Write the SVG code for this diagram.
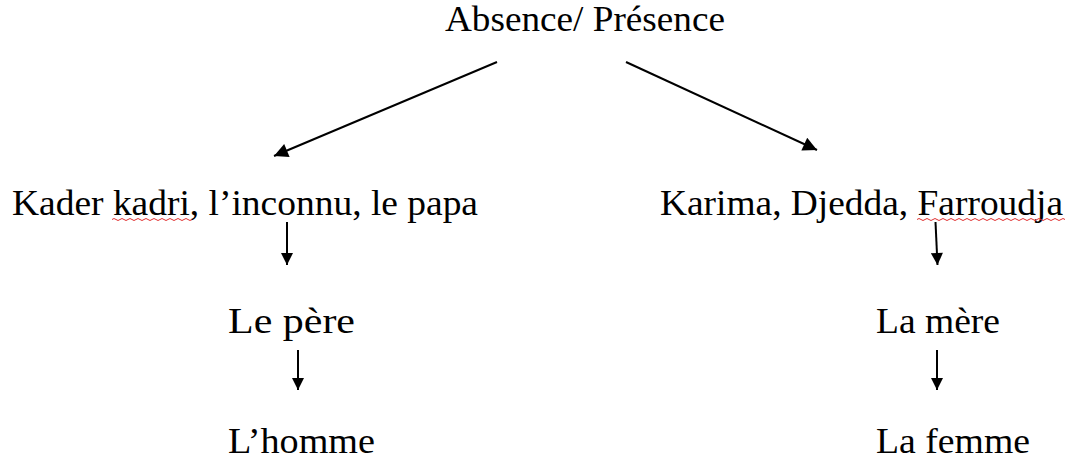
<svg xmlns="http://www.w3.org/2000/svg" width="1074" height="459" viewBox="0 0 1074 459">
<style>
.t{font-family:"Liberation Serif","Times New Roman",serif;font-size:36px;fill:#000}
.c{stroke:#000;stroke-width:2;fill:none}
.sq{stroke:#e03030;stroke-width:1;fill:none}
</style>
<defs>
<marker id="ab" viewBox="0 0 10 10" refX="10" refY="5" markerWidth="17" markerHeight="14" markerUnits="userSpaceOnUse" orient="auto">
<path d="M0,0 L10,5 L0,10 z" fill="#000"/>
</marker>
<marker id="av" viewBox="0 0 10 10" refX="10" refY="5" markerWidth="14" markerHeight="12" markerUnits="userSpaceOnUse" orient="auto">
<path d="M0,0 L10,5 L0,10 z" fill="#000"/>
</marker>
</defs>
<rect width="1074" height="459" fill="#fff"/>
<g id="root"><text class="t" x="445" y="31" textLength="280" lengthAdjust="spacingAndGlyphs">Absence/ Présence</text></g>
<g id="left"><text class="t" x="12" y="215" textLength="466" lengthAdjust="spacingAndGlyphs">Kader kadri, l’inconnu, le papa</text>
<path class="sq" d="M112,219.5 q2,-2 4,0 t4,0 t4,0 t4,0 t4,0 t4,0 t4,0 t4,0 t4,0 t4,0 t4,0 t4,0 t4,0 t4,0 t4,0 t4,0 t4,0 t4,0 t4,0 t4,0"/></g>
<g id="right"><text class="t" x="660" y="215" textLength="403" lengthAdjust="spacingAndGlyphs">Karima, Djedda, Farroudja</text>
<path class="sq" d="M917,219.5 q2,-2 4,0 t4,0 t4,0 t4,0 t4,0 t4,0 t4,0 t4,0 t4,0 t4,0 t4,0 t4,0 t4,0 t4,0 t4,0 t4,0 t4,0 t4,0 t4,0 t4,0 t4,0 t4,0 t4,0 t4,0 t4,0 t4,0 t4,0 t4,0 t4,0 t4,0 t4,0 t4,0 t4,0 t4,0 t4,0 t4,0 t4,0"/></g>
<g id="pere"><text class="t" x="228" y="333" textLength="127" lengthAdjust="spacingAndGlyphs">Le père</text></g>
<g id="mere"><text class="t" x="876" y="333" textLength="124" lengthAdjust="spacingAndGlyphs">La mère</text></g>
<g id="homme"><text class="t" x="228" y="453" textLength="147" lengthAdjust="spacingAndGlyphs">L’homme</text></g>
<g id="femme"><text class="t" x="876" y="453" textLength="154" lengthAdjust="spacingAndGlyphs">La femme</text></g>
<g id="connectors">
<line class="c" x1="497" y1="62" x2="274" y2="156" marker-end="url(#ab)"/>
<line class="c" x1="626" y1="62" x2="817" y2="150" marker-end="url(#ab)"/>
<line class="c" x1="287" y1="222" x2="287" y2="265" marker-end="url(#av)"/>
<line class="c" x1="935.5" y1="222" x2="937.5" y2="265" marker-end="url(#av)"/>
<line class="c" x1="298" y1="350" x2="298" y2="390" marker-end="url(#av)"/>
<line class="c" x1="937" y1="350" x2="937" y2="390" marker-end="url(#av)"/>
</g>
</svg>
